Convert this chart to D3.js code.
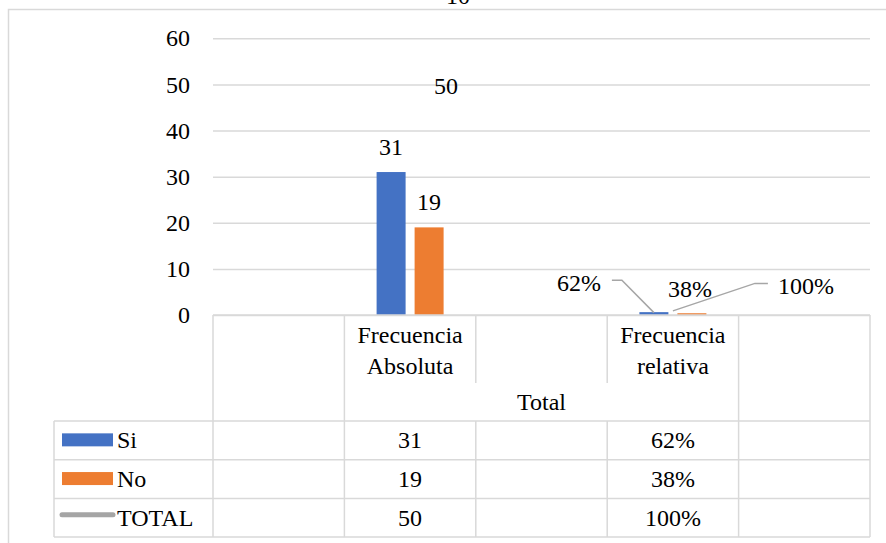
<!DOCTYPE html>
<html>
  <head>
    <meta charset="utf-8" />
    <title>Frecuencia</title>
    <script src="https://d3js.org/d3.v7.min.js" charset="utf-8"></script>
    <style>
      body { margin: 0; background: #fff; }
      svg text { font-family: "Liberation Serif", "Times New Roman", Tinos, "DejaVu Serif", serif; fill: #000; }
    </style>
  </head>
  <body>
    <svg id="canvas" width="886" height="543"></svg>
    <script>
      // data
      var categories = ["", "Frecuencia Absoluta", "", "Frecuencia relativa", ""];
      var categoryLines = [[], ["Frecuencia", "Absoluta"], [], ["Frecuencia", "relativa"], []];
      var outerCategory = "Total";
      var seriesNames = ["Si", "No", "TOTAL"];
      var siValues = [null, 31, null, 0.62, null];
      var noValues = [null, 19, null, 0.38, null];
      var totalValues = [null, 50, null, 1, null];
      var yTicks = [0, 10, 20, 30, 40, 50, 60];
      var topText = "10";

      var colors = { Si: "#4472C4", No: "#ED7D31", TOTAL: "#A5A5A5" };
      var gridColor = "#D9D9D9";
      var serif = '"Liberation Serif", "Times New Roman", Tinos, "DejaVu Serif", serif';
      var fs = "24px";

      // integer for absolute, percent for relative
      function fmt(i, v) {
        if (v == null) return "";
        return i === 3 ? d3.format(".0%")(v) : d3.format("d")(v);
      }

      var canvas = d3.select("#canvas").attr("font-family", serif);

      var x = d3.scaleBand().domain(d3.range(categories.length)).range([213, 870]).padding(0);
      var y = d3.scaleLinear().domain([0, 60]).range([315, 38.3]);

      // bars inside each category
      var groupW = 67;
      var x1 = d3.scaleBand().domain(["Si", "No"]).range([0, groupW]).paddingInner(0.237);
      function barX(i, s) {
        return x(i) + (x.bandwidth() - groupW) / 2 + x1(s);
      }

      // chart frame (cut at right / bottom)
      canvas.append("path")
        .attr("d", "M8.5,543 V9.5 H886")
        .attr("fill", "none")
        .attr("stroke", gridColor)
        .attr("stroke-width", 1.5);

      canvas.append("text")
        .attr("x", 458).attr("y", 4)
        .attr("text-anchor", "middle")
        .style("font-size", fs)
        .text(topText);

      // y axis + gridlines
      var yAxis = canvas.append("g")
        .attr("transform", "translate(213,0)")
        .call(d3.axisLeft(y).tickValues(yTicks).tickSize(-(870 - 213)).tickPadding(23));
      yAxis.attr("font-family", serif);
      yAxis.select(".domain").remove();
      yAxis.selectAll(".tick line").attr("stroke", gridColor).attr("stroke-width", 1.5);
      yAxis.selectAll(".tick text")
        .style("font-size", fs)
        .attr("fill", "#000");

      // bars
      var barSeries = [["Si", siValues], ["No", noValues]];
      barSeries.forEach(function (s) {
        canvas.append("g")
          .selectAll("rect")
          .data(s[1].map(function (v, i) { return { i: i, v: v }; }).filter(function (d) { return d.v != null; }))
          .enter()
          .append("rect")
          .attr("x", function (d) { return barX(d.i, s[0]); })
          .attr("y", function (d) { return y(d.v); })
          .attr("width", x1.bandwidth())
          .attr("height", function (d) { return y(0) - y(d.v); })
          .attr("fill", colors[s[0]]);
      });

      // TOTAL line (gaps at blank categories)
      var line = d3.line()
        .defined(function (d) { return d != null; })
        .x(function (d, i) { return x(i) + x.bandwidth() / 2; })
        .y(function (d) { return y(d); });
      canvas.append("path")
        .datum(totalValues)
        .attr("d", line)
        .attr("fill", "none")
        .attr("stroke", colors.TOTAL)
        .attr("stroke-width", 2.25);

      // data labels
      var labels = canvas.append("g").style("font-size", fs);
      var leader = canvas.append("g")
        .attr("fill", "none")
        .attr("stroke", "#A6A6A6")
        .attr("stroke-width", 1.5);

      function barTop(i, s, vals) {
        return { x: barX(i, s) + x1.bandwidth() / 2, y: y(vals[i]) };
      }

      // category 1: plain labels above bars
      var p = barTop(1, "Si", siValues);
      labels.append("text").attr("x", p.x).attr("y", p.y - 17).attr("text-anchor", "middle").text(fmt(1, siValues[1]));
      p = barTop(1, "No", noValues);
      labels.append("text").attr("x", p.x).attr("y", p.y - 17).attr("text-anchor", "middle").text(fmt(1, noValues[1]));
      var tp = { x: x(1) + x.bandwidth() / 2, y: y(totalValues[1]) };
      labels.append("text").attr("x", tp.x + 36).attr("y", tp.y + 10).attr("text-anchor", "middle").text(fmt(1, totalValues[1]));

      // category 3: moved labels with leader lines
      p = barTop(3, "Si", siValues);
      labels.append("text").attr("x", p.x - 75).attr("y", p.y - 21).attr("text-anchor", "middle").text(fmt(3, siValues[3]));
      leader.append("path").attr("d", "M" + (p.x - 42) + "," + (p.y - 32) + " H" + (p.x - 32) + " L" + p.x + "," + (p.y + 0.5));
      p = barTop(3, "No", noValues);
      labels.append("text").attr("x", p.x - 2).attr("y", p.y - 16).attr("text-anchor", "middle").text(fmt(3, noValues[3]));
      tp = { x: x(3) + x.bandwidth() / 2, y: y(totalValues[3]) };
      labels.append("text").attr("x", tp.x + 133).attr("y", tp.y - 16).attr("text-anchor", "middle").text(fmt(3, totalValues[3]));
      leader.append("path").attr("d", "M" + tp.x + "," + (tp.y + 0.5) + " L" + (tp.x + 82) + "," + (tp.y - 27) + " H" + (tp.x + 95));

      // data table
      var table = canvas.append("g");
      var tableTop = 315, headRow1 = 383, headRow2 = 421, rowH = 38.7, tableLeft = 54;
      var rowsBottom = headRow2 + rowH * seriesNames.length;
      var colEdges = x.domain().map(function (i) { return x(i); }).concat([x.range()[1]]);

      function hline(x0, x1_, yy) {
        table.append("line").attr("x1", x0).attr("x2", x1_).attr("y1", yy).attr("y2", yy)
          .attr("stroke", gridColor).attr("stroke-width", 1.5);
      }
      function vline(xx, y0, y1) {
        table.append("line").attr("x1", xx).attr("x2", xx).attr("y1", y0).attr("y2", y1)
          .attr("stroke", gridColor).attr("stroke-width", 1.5);
      }

      hline(x.range()[0], x.range()[1], tableTop);
      for (var r = 0; r <= seriesNames.length; r++) {
        hline(tableLeft, x.range()[1], headRow2 + r * rowH);
      }
      vline(tableLeft, headRow2, rowsBottom);
      colEdges.forEach(function (cx, i) {
        // inner edges of the "Total" group are broken over the outer label row
        if (i === 2 || i === 3) {
          vline(cx, tableTop, headRow1);
          vline(cx, headRow2, rowsBottom);
        } else {
          vline(cx, tableTop, rowsBottom);
        }
      });

      var tt = table.append("g").style("font-size", fs).attr("text-anchor", "middle");
      categoryLines.forEach(function (lines, i) {
        lines.forEach(function (t, k) {
          tt.append("text").attr("x", x(i) + x.bandwidth() / 2).attr("y", 343 + k * 31).text(t);
        });
      });
      tt.append("text").attr("x", (x(1) + x(3) + x.bandwidth()) / 2).attr("y", 410).text(outerCategory);

      var allValues = { Si: siValues, No: noValues, TOTAL: totalValues };
      seriesNames.forEach(function (s, r) {
        var cy = headRow2 + r * rowH + rowH / 2;
        allValues[s].forEach(function (v, i) {
          if (v == null) return;
          tt.append("text").attr("x", x(i) + x.bandwidth() / 2).attr("y", cy + 8).text(fmt(i, v));
        });
        // legend key
        if (s === "TOTAL") {
          table.append("line").attr("x1", 62).attr("x2", 113).attr("y1", cy - 3).attr("y2", cy - 3)
            .attr("stroke", colors[s]).attr("stroke-width", 5).attr("stroke-linecap", "round");
        } else {
          table.append("rect").attr("x", 62).attr("y", cy - 7).attr("width", 51).attr("height", 13)
            .attr("fill", colors[s]);
        }
        table.append("text").attr("x", 117).attr("y", cy + 8).style("font-size", fs).text(s);
      });
    </script>
  </body>
</html>
